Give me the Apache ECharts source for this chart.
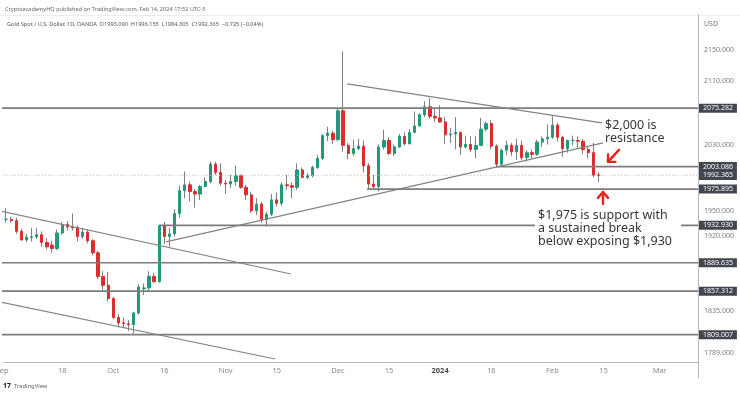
<!DOCTYPE html>
<html><head><meta charset="utf-8">
<script src="https://cdn.jsdelivr.net/npm/echarts@6.0.0/dist/echarts.min.js"></script>
<style>html,body{margin:0;padding:0;background:#fff}#c{width:740px;height:395px}</style>
</head><body><div id="c"></div>
<script>
// ---------- DATA ----------
const dates = [
'2023-09-01','2023-09-04','2023-09-05','2023-09-06','2023-09-07','2023-09-08','2023-09-11','2023-09-12','2023-09-13','2023-09-14','2023-09-15','2023-09-18','2023-09-19','2023-09-20','2023-09-21','2023-09-22','2023-09-25','2023-09-26','2023-09-27','2023-09-28','2023-09-29',
'2023-10-02','2023-10-03','2023-10-04','2023-10-05','2023-10-06','2023-10-09','2023-10-10','2023-10-11','2023-10-12','2023-10-13','2023-10-16','2023-10-17','2023-10-18','2023-10-19','2023-10-20','2023-10-23','2023-10-24','2023-10-25','2023-10-26','2023-10-27','2023-10-30','2023-10-31',
'2023-11-01','2023-11-02','2023-11-03','2023-11-06','2023-11-07','2023-11-08','2023-11-09','2023-11-10','2023-11-13','2023-11-14','2023-11-15','2023-11-16','2023-11-17','2023-11-20','2023-11-21','2023-11-22','2023-11-23','2023-11-24','2023-11-27','2023-11-28','2023-11-29','2023-11-30',
'2023-12-01','2023-12-04','2023-12-05','2023-12-06','2023-12-07','2023-12-08','2023-12-11','2023-12-12','2023-12-13','2023-12-14','2023-12-15','2023-12-18','2023-12-19','2023-12-20','2023-12-21','2023-12-22','2023-12-26','2023-12-27','2023-12-28','2023-12-29',
'2024-01-02','2024-01-03','2024-01-04','2024-01-05','2024-01-08','2024-01-09','2024-01-10','2024-01-11','2024-01-12','2024-01-15','2024-01-16','2024-01-17','2024-01-18','2024-01-19','2024-01-22','2024-01-23','2024-01-24','2024-01-25','2024-01-26','2024-01-29','2024-01-30','2024-01-31',
'2024-02-01','2024-02-02','2024-02-05','2024-02-06','2024-02-07','2024-02-08','2024-02-09','2024-02-12','2024-02-13','2024-02-14'];
const futureDates = ['2024-02-15','2024-02-16','2024-02-19','2024-02-20','2024-02-21','2024-02-22','2024-02-23','2024-02-26','2024-02-27','2024-02-28','2024-02-29','2024-03-01','2024-03-04','2024-03-05','2024-03-06','2024-03-07','2024-03-08','2024-03-11','2024-03-12'];

const opens = [
1940,1940,1938.5,1926,1916,1919,1919.5,1922,1913,1910,1906,1924,1934,1931,1930,1920,1925,1915,1901,1874,1864,
1849,1828,1822,1821,1820,1833,1860,1861,1874,1868,1933,1920,1923,1947,1974,1981,1973,1970,1979,1985,2006,1996,
1983,1982,1985,1992,1978,1969,1950,1958,1940,1946,1963,1959,1981,1980,1978,1999,1990,1992,2002,2013,2041,2044,
2036,2072,2029,2019,2025,2028,2004,1982,1979,2027,2035,2019,2027,2040,2031,2045,2053,2067,2077,2065,
2063,2058,2042,2043,2045,2027,2030,2024,2029,2049,2056,2028,2006,2023,2029,2021,2029,2014,2020,2018,2033,2037,
2039,2054,2039,2025,2035,2035,2034,2024,2020,1993.09];
const highs = [
1953,1943,1942,1929,1923,1930,1930,1926,1918,1915,1928,1937,1938,1947,1933,1930,1928,1917,1903,1880,1879,
1851,1832,1828,1825,1834,1865,1866,1880,1878,1933.5,1937,1930,1952,1980,1997,1985,1976,1981,1990,2009,2009,2007,
1987,1993,2004,1994,1981,1973,1965,1961,1949,1970,1972,1984,1993,1984,2007,2002,1995,2004,2017,2043,2052,2047,
2075,2148,2032,2036,2037,2035,2007,1993,2030,2048,2039,2030,2043,2045,2049,2071,2069,2084,2088,2074,
2079,2064,2051,2064,2046,2041,2040,2040,2063,2059,2060,2030,2025,2035,2032,2037,2035,2023,2024,2036,2040,2055,
2065,2057,2041,2036,2041,2040,2037,2027,2032,1996.155];
const lows = [
1936,1936,1923,1915,1913,1914,1917,1908,1905,1901,1904,1922,1927,1927,1914,1917,1912,1898,1871,1858,1846,
1826,1817,1816,1813,1810,1831,1853,1858,1867,1867,1911,1908,1920,1942,1965,1961,1954,1963,1978,1983,1993,1980,
1970,1977,1980,1976,1963,1947,1945,1936,1932,1944,1955,1956,1975,1965,1975,1990,1988,1990,2000,2011,2034,2031,
2034,2021,2012,2016,2023,1996,1976,1976.5,1973,2024,2017,2016,2026,2029,2030,2044,2052,2064,2062,2058,
2057,2031,2032,2024,2017,2025,2021,2013,2028,2046,2024,2002,2005,2017,2016,2011,2011,2009,2013,2016,2027,2030,
2037,2034,2015,2020,2029,2025,2018,2013,1990,1984.305];
const closes = [
1940,1938.5,1926,1916,1919,1919.5,1922,1913,1908,1906,1924,1934,1931,1930,1920,1925,1915,1901,1874,1864,1849,
1828,1822,1821,1820,1833,1862,1861,1874,1868,1932.9,1920,1923,1947,1974,1981,1973,1970,1979,1985,2006,1996,1983,
1982,1985,1992,1978,1969,1950,1958,1940,1946,1963,1959,1981,1980,1978,1999,1990,1992,2002,2013,2041,2044,2036,
2072,2029,2019,2025,2028,2004,1982,1979,2027,2035,2019,2027,2040,2031,2045,2053,2067,2077,2065,2063,
2058,2042,2043,2045,2027,2030,2024,2029,2049,2056,2028,2006,2023,2029,2021,2029,2014,2020,2018,2033,2037,2039,
2054,2039,2025,2035,2035,2034,2024,2020,1992.7,1992.365];

const tickDates = ['2023-09-01','2023-09-18','2023-10-02','2023-10-16','2023-11-01','2023-11-15','2023-12-01','2023-12-15','2024-01-02','2024-01-16','2024-02-01','2024-02-15','2024-03-01'];
const tickTexts = ['Sep','18','Oct','16','Nov','15','Dec','15','2024','16','Feb','15','Mar'];
const priceTicks = [2150, 2110, 2030, 1950, 1920, 1835, 1789];

// horizontal levels (price), where each starts (bar index; left edge = -1.19), dotted flag
const levelPrices = [2075.282, 2003.086, 1992.365, 1975.895, 1932.930, 1889.635, 1857.312, 1809.007];
const levelStarts = [-1.19, 96, -1.19, 70.7, 30, -1.19, -1.19, -1.19];
const levelDotted = [false, false, true, false, false, false, false, false];
const levelEnd = 135.5;

// trend lines [[barIndex, price],[barIndex, price]]
const trendLines = [
  [[-1.19, 1949.9], [55.8, 1876.8]],
  [[-1.19, 1845.2], [52.67, 1782.5]],
  [[31.3, 1913.6], [116.9, 2032.0]],
  [[66.8, 2106.1], [116.7, 2056.8]]
];
// hand-drawn arrows (bar index, price)
const arrowStrokes = [
  [[120.03, 2023.45], [117.88, 2008.8]],
  [[117.88, 2017.9], [117.88, 2008.8], [119.34, 2008.8]],
  [[116.9, 1958.2], [116.9, 1972.5]],
  [[115.92, 1965.4], [116.9, 1972.5], [117.88, 1965.4]]
];
const notes = [
  {at: [117.29, 2061.2], text: '$2,000 is\nresistance', bg: false},
  {at: [103.58, 1952.3], text: '$1,975 is support with\na sustained break\nbelow exposing $1,930', bg: true}
];

// ---------- CHART ----------
const FONT = '"Noto Sans", "Open Sans", sans-serif';
const categories = dates.concat(futureDates);
const wickData = dates.map((d, i) => [lows[i], highs[i], lows[i], highs[i]]);
const bodyData = dates.map((d, i) => [opens[i], closes[i], Math.min(opens[i], closes[i]), Math.max(opens[i], closes[i])]);

const series = [];
series.push({
  type: 'candlestick', name: 'wick', data: wickData, barWidth: 1, z: 2,
  itemStyle: {color: '#7f7f7f', color0: '#7f7f7f', borderColor: '#7f7f7f', borderColor0: '#7f7f7f', borderWidth: 1},
  silent: true
});
series.push({
  type: 'candlestick', name: 'body', data: bodyData, barWidth: 2.8, z: 3,
  itemStyle: {color: '#22997a', color0: '#dc2d2f', borderColor: '#22997a', borderColor0: '#dc2d2f', borderWidth: 1},
  silent: true,
  markLine: {
    silent: true, symbol: 'none', animation: false, z: 30,
    data: priceTicks.map(v => ({
      yAxis: v, lineStyle: {color: 'rgba(0,0,0,0)', width: 0},
      label: {show: true, formatter: v.toFixed(3), position: 'end', distance: 6, color: '#7b7b7b', fontSize: 7, fontFamily: FONT}
    })).concat(levelPrices.map(v => ({
      yAxis: v, lineStyle: {color: 'rgba(0,0,0,0)', width: 0},
      label: {show: true, formatter: v.toFixed(3), position: 'end', distance: 1, color: '#ffffff', backgroundColor: '#42464f',
              padding: [1, 4, 0, 4], fontSize: 7, lineHeight: 8, fontFamily: FONT}
    })))
  }
});
levelPrices.forEach((p, k) => {
  series.push({
    type: 'line', xAxisIndex: 1, yAxisIndex: 0, clip: false, symbol: 'none', silent: true, z: 5,
    data: [[levelStarts[k], p], [levelEnd, p]],
    lineStyle: levelDotted[k] ? {color: '#c4c4c4', width: 1, type: [1, 2]} : {color: '#7c7c7c', width: 1.7}
  });
});
trendLines.forEach(t => {
  series.push({
    type: 'line', xAxisIndex: 1, yAxisIndex: 0, clip: false, symbol: 'none', silent: true, z: 5,
    data: t, lineStyle: {color: '#838383', width: 1.2}
  });
});
arrowStrokes.forEach(a => {
  series.push({
    type: 'line', xAxisIndex: 1, yAxisIndex: 0, clip: false, symbol: 'none', silent: true, z: 8,
    data: a, lineStyle: {color: '#e5231b', width: 2.4, cap: 'round', join: 'round'}
  });
});
series.push({
  type: 'line', xAxisIndex: 1, yAxisIndex: 0, data: [], z: 20, silent: true,
  markPoint: {
    silent: true, animation: false, symbol: 'rect', symbolSize: 0, z: 20,
    data: notes.map(n => ({
      coord: n.at,
      label: {show: true, position: [0, 0], formatter: n.text, color: '#363636', fontSize: 12.5, lineHeight: 13,
              fontFamily: FONT, backgroundColor: n.bg ? '#ffffff' : 'transparent', padding: n.bg ? [0, 9, 0, 3] : 0}
    }))
  }
});

const chart = echarts.init(document.getElementById('c'), null, {renderer: 'canvas'});
chart.setOption({
  animation: false,
  backgroundColor: '#ffffff',
  grid: {left: 3.5, right: 42, top: 15, bottom: 33, containLabel: false, outerBoundsMode: 'none'},
  xAxis: [{
    type: 'category', data: categories, boundaryGap: true,
    axisLine: {show: true, onZero: false, lineStyle: {color: '#b8b8b8', width: 1}},
    axisTick: {show: false}, splitLine: {show: false},
    axisLabel: {
      interval: (i, v) => tickDates.indexOf(v) >= 0,
      formatter: v => {
        const t = tickTexts[tickDates.indexOf(v)] || '';
        if (t === '2024') return '{b|2024}';
        if (t === 'Sep') return '{s|Sep}';
        return t;
      },
      color: '#8a8a8a', fontSize: 7.5, margin: 5, fontFamily: FONT,
      rich: {
        b: {fontWeight: 'bold', color: '#4a4a4a', fontSize: 7.5, fontFamily: FONT},
        s: {color: '#8a8a8a', fontSize: 7.5, fontFamily: FONT, padding: [0, 8, 0, 0]}
      }
    }
  }, {
    type: 'value', min: -0.5, max: 135.5, show: false
  }],
  yAxis: [{
    type: 'log', logBase: 10, min: 1779.3, max: 2195.8, position: 'right',
    axisLine: {show: true, onZero: false, lineStyle: {color: '#b8b8b8', width: 1}},
    axisTick: {show: false}, axisLabel: {show: false}, splitLine: {show: false}
  }],
  graphic: [
    {type: 'line', shape: {x1: 0, y1: 15.5, x2: 740, y2: 15.5}, style: {stroke: '#ececec', lineWidth: 1}, silent: true},
    {type: 'line', shape: {x1: 698.5, y1: 362, x2: 698.5, y2: 378}, style: {stroke: '#b8b8b8', lineWidth: 1}, silent: true},
    {type: 'text', left: 5, top: 6, style: {text: 'CryptoacademyHQ published on TradingView.com, Feb 14, 2024 17:52 UTC-5', font: '5.6px "Noto Sans"', fill: '#666'}, silent: true},
    {type: 'text', left: 7, top: 21, style: {text: 'Gold Spot / U.S. Dollar, 1D, OANDA  O1993.090  H1996.155  L1984.305  C1992.365  \u22120.725 (\u22120.04%)', font: '5.6px "Noto Sans"', fill: '#555'}, silent: true},
    {type: 'text', left: 704, top: 20, style: {text: 'USD', font: '7px "Noto Sans"', fill: '#777'}, silent: true},
    {type: 'text', left: 3, top: 382, style: {text: '17', font: 'bold 7px "Noto Sans"', fill: '#222'}, silent: true},
    {type: 'text', left: 14, top: 383, style: {text: 'TradingView', font: '5.8px "Noto Sans"', fill: '#666'}, silent: true}
  ],
  series: series
});
</script>
</body></html>
